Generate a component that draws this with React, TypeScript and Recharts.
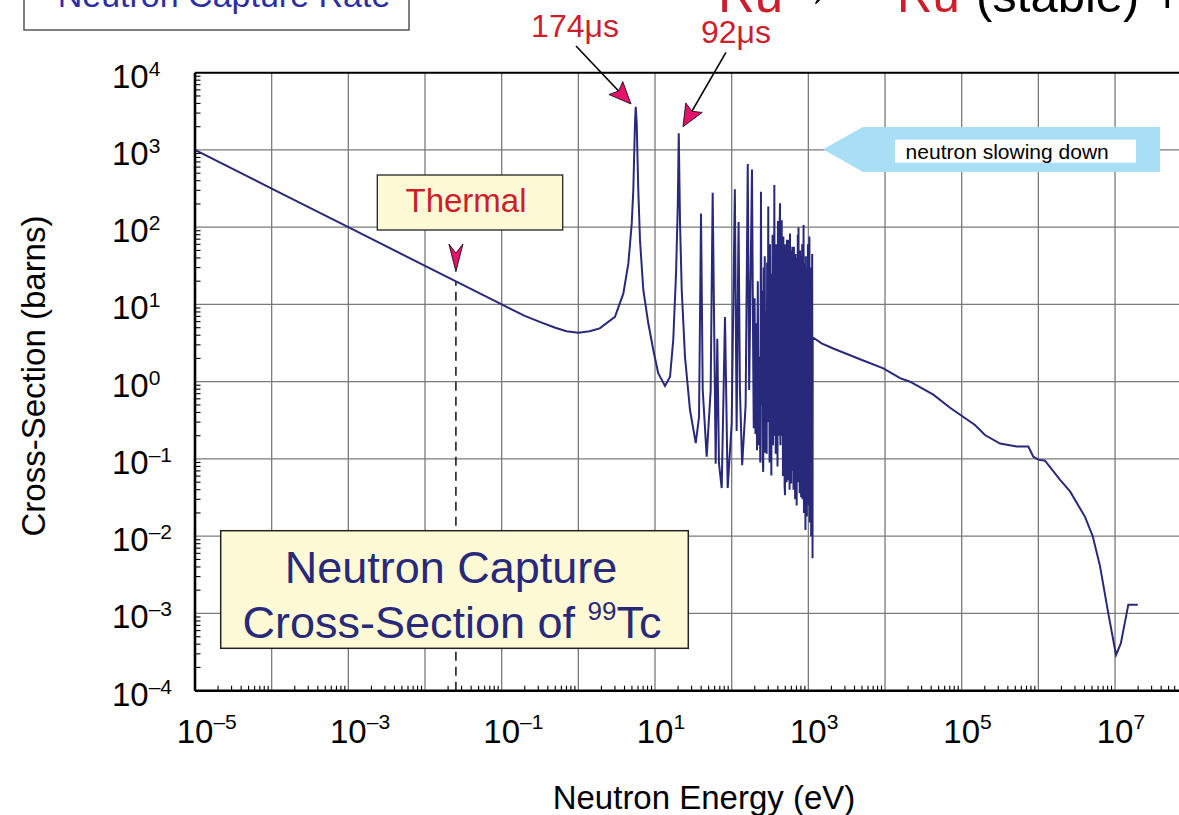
import React from 'react';
import { LineChart, Line, XAxis, YAxis, CartesianGrid, ReferenceLine, ReferenceDot } from 'recharts';

// 1/v part, up to the first resonance (eV, barns)
const thermalE = [1e-5, 1e-4, 1e-3, 0.01, 0.0253, 0.1, 0.2, 0.32, 0.5, 0.7, 1.0, 1.4, 1.9];
const thermalS = [1000, 316, 100, 31.6, 19.9, 10, 7.1, 5.9, 5.0, 4.5, 4.3, 4.5, 4.9];

// resolved resonances 3 - 190 eV
const resolvedE = [
  3.0, 3.86, 4.49, 4.97, 5.21, 5.48, 5.6, 5.77, 6.05, 6.37,
  7.03, 8.17, 9.5, 11.0, 13.5, 15.7, 17.3, 18.8, 19.8, 20.4,
  21.2, 22.3, 24.6, 28.6, 34.0, 37.5, 39.8, 41.9, 47.2, 53.2,
  56.5, 59.3, 61.8, 64.9, 68.3, 74.1, 81.8, 88.7, 100, 110,
  116, 123, 128, 137, 152, 162, 169, 184, 191,
];
const resolvedS = [
  6.9, 13.8, 34, 112, 302, 2240, 3630, 2240, 302, 68,
  15.5, 5.7, 2.57, 1.29, 0.88, 1.16, 3.5, 25, 185, 1640,
  112, 15.5, 2.1, 0.43, 0.16, 0.35, 150, 0.78, 0.107, 0.78,
  280, 3.8, 0.087, 3.6, 0.087, 0.042, 6.9, 0.042, 0.29, 310,
  0.23, 117, 0.78, 0.083, 0.5, 660, 0.78, 560, 1.74,
];

// dense resonance forest 190 eV - 1.1 keV
const forestE = [
  194, 199, 204, 209, 214, 219, 224, 230, 236, 241,
  246, 250, 254, 258, 262, 266, 270, 274, 278, 282,
  286, 290, 295, 300, 304, 308, 312, 316, 320, 325,
  329, 333, 337, 341, 346, 350, 355, 360, 365, 370,
  375, 380, 386, 391, 396, 401, 406, 411, 416, 421,
  427, 432, 438, 443, 449, 455, 461, 466, 472, 478,
  484, 490, 496, 502, 508, 514, 520, 526, 532, 538,
  544, 550, 556, 562, 569, 576, 583, 590, 597, 604,
  611, 618, 625, 632, 640, 648, 656, 664, 672, 680,
  688, 696, 704, 712, 720, 728, 736, 744, 752, 760,
  770, 778, 786, 795, 804, 812, 821, 830, 839, 848,
  857, 866, 876, 886, 896, 906, 916, 926, 936, 946,
  956, 966, 977, 988, 999, 1010, 1021, 1032, 1043, 1054,
  1065, 1076, 1087, 1098, 1110, 1122, 1134,
];
const forestS = [
  0.25, 12, 0.21, 5.7, 0.13, 20, 0.15, 2.1, 0.09, 288,
  0.5, 15, 0.1, 0.068, 30, 0.3, 42, 0.12, 8, 0.2,
  0.117, 35, 0.3, 186, 0.5, 12, 0.09, 60, 0.2, 18,
  0.061, 25, 0.4, 80, 0.15, 40, 0.5, 352, 0.2, 20,
  0.117, 60, 0.3, 15, 0.08, 120, 0.5, 30, 0.2, 90,
  204, 0.15, 25, 0.29, 123, 0.2, 30, 0.06, 76, 0.5,
  20, 0.045, 0.034, 60, 1.5, 25, 0.05, 69, 0.3, 40,
  0.053, 69, 0.6, 20, 0.04, 83, 0.4, 30, 0.048, 50,
  0.6, 56, 0.07, 20, 0.04, 56, 0.5, 25, 0.03, 45,
  0.9, 15, 0.025, 40, 0.3, 80, 0.05, 100, 0.6, 30,
  0.036, 50, 0.8, 20, 0.032, 42, 0.4, 60, 0.03, 20,
  0.2, 107, 0.02, 15, 0.6, 34, 0.012, 42, 0.5, 10,
  0.018, 30, 0.2, 60, 0.025, 15, 0.6, 76, 0.015, 20,
  0.3, 30, 0.01, 25, 0.05, 45, 0.0052,
];

// smooth fast-neutron part 1.1 keV - 20 MeV
const fastE = [
  1140, 1490, 2110, 4720, 9510, 15700, 21200, 42700, 70500, 149000,
  201000, 316000, 522000, 740000, 859000, 1.0e6, 1.22e6, 1.91e6, 2.59e6, 4.06e6,
  5.12e6, 6.37e6, 8.17e6, 1.03e7, 1.19e7, 1.49e7, 1.98e7,
];
const fastS = [
  3.76, 3.14, 2.69, 1.95, 1.49, 1.11, 1.0, 0.68, 0.46, 0.275,
  0.204, 0.158, 0.145, 0.145, 0.107, 0.098, 0.095, 0.054, 0.038, 0.0178,
  0.01, 0.0041, 0.001, 0.00029, 0.00041, 0.0013, 0.0013,
];

const xDecades = [1e-5, 1e-4, 1e-3, 1e-2, 1e-1, 1, 10, 100, 1e3, 1e4, 1e5, 1e6, 1e7, 1e8];
const yDecades = [1e-4, 1e-3, 1e-2, 1e-1, 1, 10, 100, 1e3, 1e4];
const minorSteps = [2, 3, 4, 5, 6, 7, 8, 9];

const THERMAL_E = 0.0253;

const pairs = (es: number[], ss: number[]) => es.map((e, i) => ({ e, s: ss[i] }));
const data = [
  ...pairs(thermalE, thermalS),
  ...pairs(resolvedE, resolvedS),
  ...pairs(forestE, forestS),
  ...pairs(fastE, fastS),
];

const withMinors = (dec: number[]) =>
  [...dec, ...dec.slice(0, -1).flatMap((d) => minorSteps.map((m) => d * m))].sort((a, b) => a - b);
const xTicks = withMinors(xDecades);
const yTicks = withMinors(yDecades);

const FONT = '"Liberation Sans", Arial, Helvetica, sans-serif';
const NAVY = '#29297c';
const RED = '#cc1f2b';
const PINK = '#e5126b';
const CREAM = '#fffad6';

function decadeOf(v: number) {
  const p = Math.log10(v);
  const r = Math.round(p);
  return Math.abs(p - r) < 1e-6 ? r : null;
}
const expText = (d: number) => (d < 0 ? `\u2013${-d}` : `${d}`);

function XTick(props: any) {
  const { x, y, payload } = props;
  const d = decadeOf(payload.value);
  if (d === null) return <line x1={x} x2={x} y1={y} y2={y - 5} stroke="#000" strokeWidth={1.1} />;
  if (Math.abs(d % 2) !== 1 || d > 7) return <g />;
  return (
    <g fontFamily={FONT} fill="#000">
      <text x={x} y={y + 52} textAnchor="middle" fontSize={33}>10</text>
      <text x={x + 18.4} y={y + 38} fontSize={21}>{expText(d)}</text>
    </g>
  );
}

function YTick(props: any) {
  const { x, y, payload } = props;
  const d = decadeOf(payload.value);
  if (d === null) return <line x1={x} x2={x + 5.5} y1={y} y2={y} stroke="#000" strokeWidth={1.1} />;
  return (
    <g fontFamily={FONT} fill="#000">
      <text x={x - 83} y={y + 15} fontSize={33}>10</text>
      <text x={x - 83 + 36.7} y={y + 3} fontSize={21}>{expText(d)}</text>
    </g>
  );
}

function Head({ tx, ty, ux, uy, len, half, notch }: any) {
  const nx = -uy;
  const ny = ux;
  const bx = tx - len * ux;
  const by = ty - len * uy;
  const pts = [
    [tx, ty],
    [bx + half * nx, by + half * ny],
    [tx - (len - notch) * ux, ty - (len - notch) * uy],
    [bx - half * nx, by - half * ny],
  ];
  return (
    <polygon
      points={pts.map((p) => p.join(',')).join(' ')}
      fill={PINK}
      stroke="#000"
      strokeWidth={0.8}
    />
  );
}

function PeakArrow({ cx, cy, start, tip, label, labelDx }: any) {
  const sx = cx + start[0];
  const sy = cy + start[1];
  const tx = cx + tip[0];
  const ty = cy + tip[1];
  const dist = Math.hypot(tx - sx, ty - sy);
  const ux = (tx - sx) / dist;
  const uy = (ty - sy) / dist;
  const len = 22;
  const notch = 4;
  return (
    <g>
      <text x={sx + labelDx} y={sy - 9} textAnchor="middle" fontFamily={FONT} fontSize={32} fill={RED}>
        {label}
      </text>
      <line x1={sx} y1={sy} x2={tx - (len - notch) * ux} y2={ty - (len - notch) * uy} stroke="#000" strokeWidth={1.6} />
      <Head tx={tx} ty={ty} ux={ux} uy={uy} len={len} half={9.5} notch={notch} />
    </g>
  );
}

export default function App() {
  return (
    <div style={{ position: 'absolute', left: 0, top: 0, width: 1179, height: 815, overflow: 'hidden', background: '#fff' }}>
      <div style={{ position: 'absolute', left: 0, top: 0 }}>
        <LineChart width={1200} height={815} data={data} margin={{ top: 72.7, left: 194, right: 8.3, bottom: 123.3 }}>
          <CartesianGrid verticalValues={xDecades} horizontalValues={yDecades} stroke="#7a7a7a" strokeWidth={1.3} />
          <XAxis
            dataKey="e"
            type="number"
            scale="log"
            domain={[1e-5, 1e8]}
            allowDataOverflow
            ticks={xTicks}
            interval={0}
            height={1}
            tickSize={0}
            tickMargin={0}
            tickLine={false}
            tick={XTick}
            axisLine={{ stroke: '#000', strokeWidth: 2.6 }}
          />
          <YAxis
            type="number"
            scale="log"
            domain={[1e-4, 1e4]}
            allowDataOverflow
            ticks={yTicks}
            interval={0}
            width={1}
            tickSize={0}
            tickMargin={0}
            tickLine={false}
            tick={YTick}
            axisLine={{ stroke: '#000', strokeWidth: 2.6 }}
          />
          <ReferenceLine y={1e4} stroke="#000" strokeWidth={2} ifOverflow="visible" />
          <ReferenceLine
            segment={[{ x: THERMAL_E, y: 1e-4 }, { x: THERMAL_E, y: 19.9 }]}
            stroke="#000"
            strokeWidth={1.4}
            strokeDasharray="9 6"
            ifOverflow="visible"
          />
          <Line
            dataKey="s"
            type="linear"
            stroke={NAVY}
            strokeWidth={2}
            dot={false}
            isAnimationActive={false}
          />
          <ReferenceDot
            x={5.6}
            y={3630}
            r={0}
            ifOverflow="visible"
            shape={(p: any) => (
              <PeakArrow cx={p.cx} cy={p.cy} start={[-59.7, -60.7]} tip={[-4.7, -2.7]} label="174μs" labelDx={-1} />
            )}
          />
          <ReferenceDot
            x={20.4}
            y={1640}
            r={0}
            ifOverflow="visible"
            shape={(p: any) => (
              <PeakArrow cx={p.cx} cy={p.cy} start={[47.2, -80.9]} tip={[4.2, -6.6]} label="92μs" labelDx={10} />
            )}
          />
          <ReferenceDot
            x={THERMAL_E}
            y={26.5}
            r={0}
            ifOverflow="visible"
            shape={(p: any) => <Head tx={p.cx} ty={p.cy} ux={0} uy={1} len={27.7} half={7} notch={9} />}
          />
        </LineChart>
      </div>

      <svg
        width={1179}
        height={815}
        style={{ position: 'absolute', left: 0, top: 0, pointerEvents: 'none' }}
        fontFamily={FONT}
      >
        {/* slide title and reaction, cut off by the top edge */}
        <rect x={24} y={-20} width={385} height={50} fill="#fff" stroke="#555" strokeWidth={1.5} />
        <text x={224} y={7} textAnchor="middle" fontSize={34} fill="#2e2ea3">Neutron Capture Rate</text>
        <text x={718} y={12} fontSize={51} fill={RED}>Ru</text>
        <text x={784} y={6} fontSize={49} fill="#000">→</text>
        <text x={897} y={12} fontSize={49} fill={RED}>Ru</text>
        <text x={976} y={12} fontSize={49} fill="#000">(stable) +</text>

        {/* slowing-down banner */}
        <polygon points="823,149.3 863,127 1160,127 1160,172 863,172" fill="#a9def7" />
        <rect x={895} y={139.7} width={241} height={23} fill="#fff" />
        <text x={905.6} y={158.5} fontSize={21} fill="#000">neutron slowing down</text>

        {/* thermal label */}
        <rect x={377.3} y={175} width={185.4} height={55} fill={CREAM} stroke="#222" strokeWidth={1.3} />
        <text x={466} y={211.7} textAnchor="middle" fontSize={33} fill={RED}>Thermal</text>

        {/* title box */}
        <rect x={220.7} y={530.7} width={467.6} height={117.6} fill={CREAM} stroke="#222" strokeWidth={1.5} />
        <text x={451} y={583.3} textAnchor="middle" fontSize={45} fill={NAVY}>Neutron Capture</text>
        <text x={452} y={638.3} textAnchor="middle" fontSize={45} fill={NAVY}>
          <tspan>Cross-Section of </tspan>
          <tspan fontSize={26} dy={-18}>99</tspan>
          <tspan dy={18}>Tc</tspan>
        </text>

        {/* axis titles */}
        <text x={704} y={809} textAnchor="middle" fontSize={33} fill="#000">Neutron Energy (eV)</text>
        <text transform="translate(45,376) rotate(-90)" textAnchor="middle" fontSize={33} fill="#000">
          Cross-Section (barns)
        </text>
      </svg>
    </div>
  );
}
